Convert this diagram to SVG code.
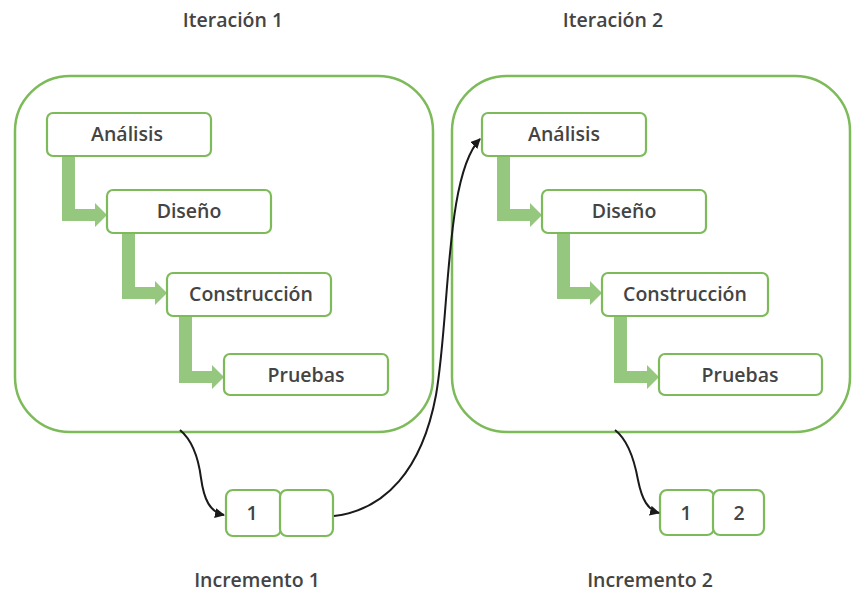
<svg xmlns="http://www.w3.org/2000/svg" width="853" height="592" viewBox="0 0 853 592">
  <style>
    .frame { fill: #ffffff; stroke: #7dbb5a; stroke-width: 2.5; }
    .box { fill: #ffffff; stroke: #7dbb5a; stroke-width: 2.2; }
    .flow { fill: #95c77f; stroke: none; }
    .lbl { font-family: "Open Sans", "Liberation Sans", sans-serif; font-size: 19.5px; font-weight: 600; fill: #444444; text-anchor: middle; }
    .link { fill: none; stroke: #1a1a1a; stroke-width: 2; }
  </style>
  <defs>
    <marker id="tip" viewBox="0 0 10 10" refX="9" refY="5" markerWidth="5" markerHeight="5" orient="auto" markerUnits="strokeWidth">
      <path d="M0,0 L10,5 L0,10 Z" fill="#1a1a1a"/>
    </marker>
  </defs>

  <rect width="853" height="592" fill="#ffffff"/>

  <!-- titles -->
  <text class="lbl" x="233" y="27">Iteración 1</text>
  <text class="lbl" x="613" y="27">Iteración 2</text>

  <!-- iteration frames -->
  <g id="iteracion1">
    <rect class="frame" x="15" y="76" width="418" height="356" rx="55"/>
  </g>
  <g id="iteracion2">
    <rect class="frame" x="452" y="76" width="398" height="356" rx="55"/>
  </g>

  <!-- phase flow arrows -->
  <g id="flujos">
    <path class="flow" d="M62,156 H75 V209 H95 V203 L107,215 L95,227 V221 H62 Z"/>
    <path class="flow" d="M122,233 H135 V287 H155 V281 L167,293 L155,305 V299 H122 Z"/>
    <path class="flow" d="M179,316 H192 V371 H212 V365 L224,377 L212,389 V383 H179 Z"/>
    <path class="flow" d="M497,156 H510 V209 H530 V203 L542,215 L530,227 V221 H497 Z"/>
    <path class="flow" d="M557,233 H570 V287 H590 V281 L602,293 L590,305 V299 H557 Z"/>
    <path class="flow" d="M614,316 H627 V371 H647 V365 L659,377 L647,389 V383 H614 Z"/>
  </g>

  <!-- iteration 1 phases -->
  <g id="analisis1">
    <rect class="box" x="47" y="113" width="164" height="43" rx="6"/>
    <text class="lbl" x="127" y="141">Análisis</text>
  </g>
  <g id="diseno1">
    <rect class="box" x="107" y="190" width="164" height="43" rx="6"/>
    <text class="lbl" x="189" y="218">Diseño</text>
  </g>
  <g id="construccion1">
    <rect class="box" x="167" y="273" width="164" height="43" rx="6"/>
    <text class="lbl" x="251" y="301">Construcción</text>
  </g>
  <g id="pruebas1">
    <rect class="box" x="224" y="354" width="164" height="41" rx="6"/>
    <text class="lbl" x="306" y="382">Pruebas</text>
  </g>

  <!-- iteration 2 phases -->
  <g id="analisis2">
    <rect class="box" x="482" y="113" width="164" height="43" rx="6"/>
    <text class="lbl" x="564" y="141">Análisis</text>
  </g>
  <g id="diseno2">
    <rect class="box" x="542" y="190" width="164" height="43" rx="6"/>
    <text class="lbl" x="624" y="218">Diseño</text>
  </g>
  <g id="construccion2">
    <rect class="box" x="602" y="273" width="166" height="43" rx="6"/>
    <text class="lbl" x="685" y="301">Construcción</text>
  </g>
  <g id="pruebas2">
    <rect class="box" x="659" y="354" width="163" height="41" rx="6"/>
    <text class="lbl" x="740" y="382">Pruebas</text>
  </g>

  <!-- increments -->
  <g id="incremento1">
    <rect class="box" x="226" y="490" width="55" height="46" rx="7"/>
    <rect class="box" x="280" y="490" width="53" height="46" rx="7"/>
    <text class="lbl" x="252" y="520">1</text>
  </g>
  <g id="incremento2">
    <rect class="box" x="660" y="490" width="54" height="45" rx="7"/>
    <rect class="box" x="713" y="490" width="51" height="45" rx="7"/>
    <text class="lbl" x="686" y="520">1</text>
    <text class="lbl" x="739" y="520">2</text>
  </g>

  <text class="lbl" x="257" y="587">Incremento 1</text>
  <text class="lbl" x="650" y="587">Incremento 2</text>

  <!-- connectors -->
  <g id="conectores">
    <path class="link" marker-end="url(#tip)" d="M180,430 C192,440 198,455 201,478 C204,500 210,512 224,515"/>
    <path class="link" marker-end="url(#tip)" d="M334,516 C385,510 422,470 436,395 C450,315 445,175 480,139"/>
    <path class="link" marker-end="url(#tip)" d="M615,430 C628,440 634,458 638,480 C642,500 648,510 659,513"/>
  </g>
</svg>
